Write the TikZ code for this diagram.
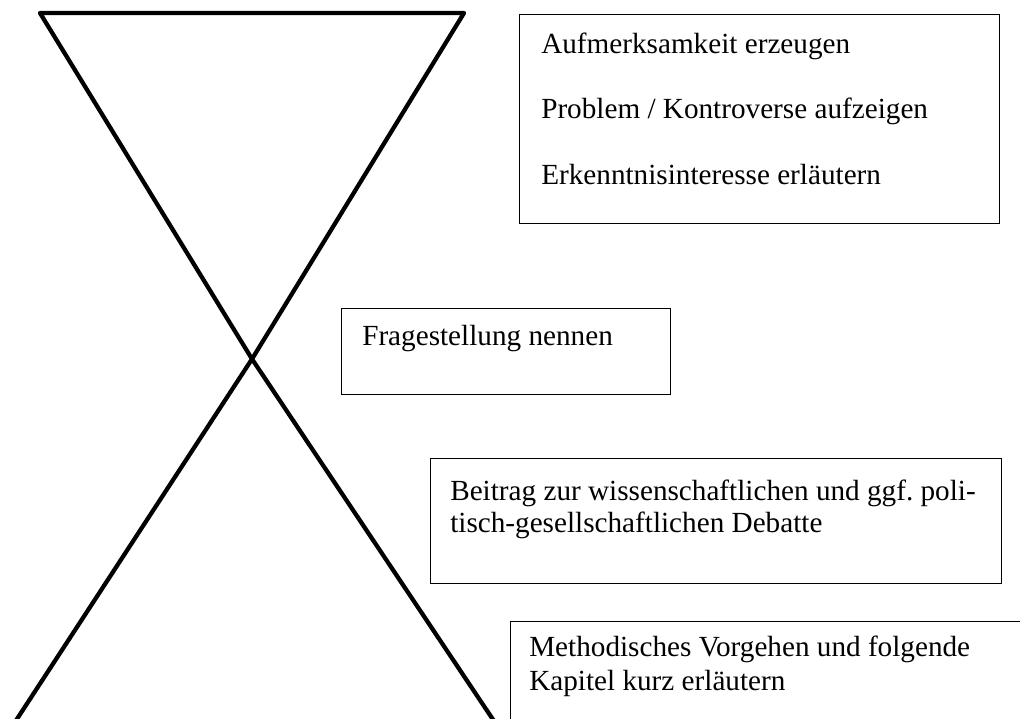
\documentclass[tikz,border=0pt]{standalone}
\usepackage{fontspec}
\setmainfont{Liberation Serif}
\frenchspacing
\begin{document}
\begin{tikzpicture}[x=0.75pt,y=-0.75pt,
  every node/.style={font=\fontsize{21.9pt}{26pt}\selectfont},
  glass/.style={line width=3.2pt,line join=round},
  box/.style={draw,line width=1.1pt,rectangle,inner sep=0pt,anchor=north west},
  txt/.style={inner sep=0pt,anchor=base west}]
\clip (0,0) rectangle (1020,718);
\useasboundingbox (0,0) rectangle (1020,718);
% hourglass
\coordinate (tl) at (40,13);
\coordinate (tr) at (464,13);
\coordinate (mid) at (252,359);
\coordinate (bl) at (0,745);
\coordinate (br) at (510,745);
\draw[glass] (mid) -- (tl) -- (tr) -- cycle;
\draw[glass] (bl) -- (mid) -- (br);
% boxes
\node[box,minimum width=480*0.75pt,minimum height=209*0.75pt] (b1) at (519,14) {};
\node[txt] (t1a) at (541,53) {Aufmerksamkeit erzeugen};
\node[txt] (t1b) at (541,118) {Problem / Kontroverse aufzeigen};
\node[txt] (t1c) at (541,184) {Erkenntnisinteresse erläutern};
\node[box,minimum width=329*0.75pt,minimum height=86*0.75pt] (b2) at (341,308) {};
\node[txt] (t2) at (362,345) {Fragestellung nennen};
\node[box,minimum width=571*0.75pt,minimum height=125*0.75pt] (b3) at (430,458) {};
\node[txt] (t3a) at (450,500) {Beitrag zur wissenschaftlichen und ggf. poli-};
\node[txt] (t3b) at (450,532) {tisch-gesellschaftlichen Debatte};
\node[box,minimum width=540*0.75pt,minimum height=140*0.75pt] (b4) at (510,621) {};
\node[txt] (t4a) at (529,656) {Methodisches Vorgehen und folgende};
\node[txt] (t4b) at (529,690) {Kapitel kurz erläutern};
\end{tikzpicture}
\end{document}
